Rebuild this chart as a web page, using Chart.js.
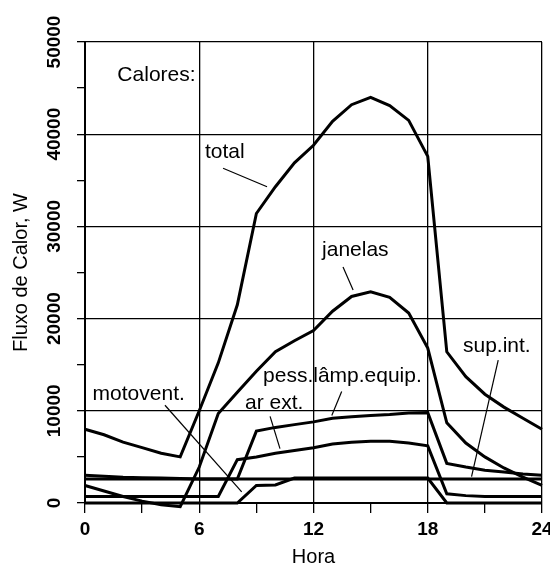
<!DOCTYPE html>
<html>
<head>
<meta charset="utf-8">
<script src="https://cdn.jsdelivr.net/npm/chart.js@4.4.1/dist/chart.umd.min.js"></script>
<style>
    html, body { margin: 0; padding: 0; background: #fff; }
    #wrap { width: 550px; height: 563px; }
</style>
</head>
<body>
<div id="wrap"><canvas id="myChart"></canvas></div>
<script>
// hour of day
const hours = [0, 1, 2, 3, 4, 5, 6, 7, 8, 9, 10, 11, 12, 13, 14, 15, 16, 17, 18, 19, 20, 21, 22, 23, 24];

// heat gains, W
const total = [8000, 7400, 6600, 6000, 5400, 5000, 10000, 15200, 21500, 31400, 34300, 36900, 38800, 41400, 43200, 44000, 43100, 41500, 37600, 16400, 13700, 11800, 10400, 9200, 8000];
const janelas = [1900, 1300, 700, 200, -200, -400, 3900, 9700, 12000, 14300, 16400, 17600, 18700, 20800, 22400, 22900, 22300, 20600, 16800, 8700, 6500, 5000, 3800, 2800, 1900];
const pessLampEquip = [3000, 2900, 2800, 2750, 2700, 2650, 2600, 2600, 2600, 7800, 8200, 8500, 8800, 9200, 9350, 9500, 9600, 9750, 9800, 4300, 3900, 3550, 3350, 3150, 3000];
const arExt = [700, 700, 700, 700, 700, 700, 700, 700, 4700, 5000, 5400, 5700, 6000, 6400, 6600, 6700, 6700, 6500, 6200, 1000, 800, 700, 700, 700, 700];
const motovent = [0, 0, 0, 0, 0, 0, 0, 0, 0, 1900, 1950, 2700, 2700, 2700, 2700, 2700, 2700, 2700, 2700, 0, 0, 0, 0, 0, 0];
const supInt = [2600, 2600, 2600, 2600, 2600, 2600, 2600, 2600, 2600, 2600, 2600, 2600, 2600, 2600, 2600, 2600, 2600, 2600, 2600, 2600, 2600, 2600, 2600, 2600, 2600];

// labels written inside the plot (hour, W) and their leader lines
const notes = [
    { text: 'Calores:', x: 1.7, y: 46400 },
    { text: 'total', x: 6.3, y: 38100 },
    { text: 'janelas', x: 12.45, y: 27400 },
    { text: 'pess.lâmp.equip.', x: 9.35, y: 13800 },
    { text: 'ar ext.', x: 8.4, y: 10800 },
    { text: 'motovent.', x: 0.4, y: 11800 },
    { text: 'sup.int.', x: 19.85, y: 17000 }
];
const leaders = [
    [7.25, 36300, 9.56, 34300],
    [13.55, 25600, 14.08, 23100],
    [13.48, 12100, 12.96, 9500],
    [9.72, 9400, 10.24, 5900],
    [4.2, 10600, 8.23, 1200],
    [21.7, 15500, 20.3, 2850]
];

const FONT = '"Liberation Sans", Arial, sans-serif';

function toPoints(values) {
    return hours.map((h, i) => ({ x: h, y: values[i] }));
}

const seriesList = [total, janelas, pessLampEquip, arExt, motovent, supInt];

const yLabelsPlugin = {
    id: 'yLabels',
    afterDraw(chart) {
        const ctx = chart.ctx;
        const y = chart.scales.y;
        ctx.save();
        ctx.font = 'bold 19px ' + FONT;
        ctx.fillStyle = '#000';
        ctx.textAlign = 'center';
        ctx.textBaseline = 'middle';
        y.ticks.forEach(t => {
            if (t.value % 10000 !== 0) return;
            ctx.save();
            ctx.translate(y.right - 30, y.getPixelForValue(t.value));
            ctx.rotate(-Math.PI / 2);
            ctx.fillText(String(t.value), 0, 0);
            ctx.restore();
        });
        ctx.restore();
    }
};

const notesPlugin = {
    id: 'notes',
    afterDatasetsDraw(chart) {
        const ctx = chart.ctx;
        const xs = chart.scales.x, ys = chart.scales.y;
        ctx.save();
        ctx.strokeStyle = '#000';
        ctx.lineWidth = 1.2;
        leaders.forEach(l => {
            ctx.beginPath();
            ctx.moveTo(xs.getPixelForValue(l[0]), ys.getPixelForValue(l[1]));
            ctx.lineTo(xs.getPixelForValue(l[2]), ys.getPixelForValue(l[3]));
            ctx.stroke();
        });
        ctx.font = '21px ' + FONT;
        ctx.fillStyle = '#000';
        ctx.textAlign = 'left';
        ctx.textBaseline = 'middle';
        notes.forEach(n => {
            ctx.fillText(n.text, xs.getPixelForValue(n.x), ys.getPixelForValue(n.y));
        });
        ctx.restore();
    }
};

const ctx = document.getElementById('myChart').getContext('2d');

new Chart(ctx, {
    type: 'line',
    data: {
        datasets: seriesList.map(s => ({
            data: toPoints(s),
            borderColor: '#000',
            borderWidth: 3,
            pointRadius: 0,
            tension: 0,
            fill: false,
            clip: { left: 5, top: 5, right: 5, bottom: 8 }
        }))
    },
    options: {
        responsive: true,
        maintainAspectRatio: false,
        animation: false,
        layout: {
            padding: { top: 42, right: 8, bottom: 0, left: 0 }
        },
        scales: {
            x: {
                type: 'linear',
                min: 0,
                max: 24,
                border: { color: '#000', width: 2 },
                grid: {
                    color: c => (c.tick && c.tick.value % 6 === 0) ? '#000' : 'rgba(0,0,0,0)',
                    tickColor: '#000',
                    lineWidth: 1.3,
                    tickLength: 10
                },
                ticks: {
                    stepSize: 3,
                    autoSkip: false,
                    maxRotation: 0,
                    padding: 5,
                    color: '#000',
                    font: { family: FONT, size: 19, weight: 'bold' },
                    callback: v => (v % 6 === 0 ? String(v) : '')
                },
                title: {
                    display: true,
                    text: 'Hora',
                    color: '#000',
                    padding: 0,
                    font: { family: FONT, size: 20, lineHeight: 0.6 }
                },
                afterFit: s => {
                    s.height = 60;
                    s.paddingLeft = 0;
                    s.paddingRight = 0;
                }
            },
            y: {
                min: 0,
                max: 50000,
                border: { color: '#000', width: 2 },
                grid: {
                    color: c => (c.tick && c.tick.value % 10000 === 0) ? '#000' : 'rgba(0,0,0,0)',
                    tickColor: '#000',
                    lineWidth: 1.3,
                    tickLength: 8
                },
                ticks: {
                    stepSize: 5000,
                    display: false
                },
                title: {
                    display: true,
                    text: 'Fluxo de Calor, W',
                    color: '#000',
                    padding: { top: 9, bottom: 0 },
                    font: { family: FONT, size: 20 }
                },
                afterFit: s => {
                    s.width = 85;
                }
            }
        },
        plugins: {
            legend: { display: false },
            tooltip: { enabled: false }
        }
    },
    plugins: [yLabelsPlugin, notesPlugin]
});
</script>
</body>
</html>
